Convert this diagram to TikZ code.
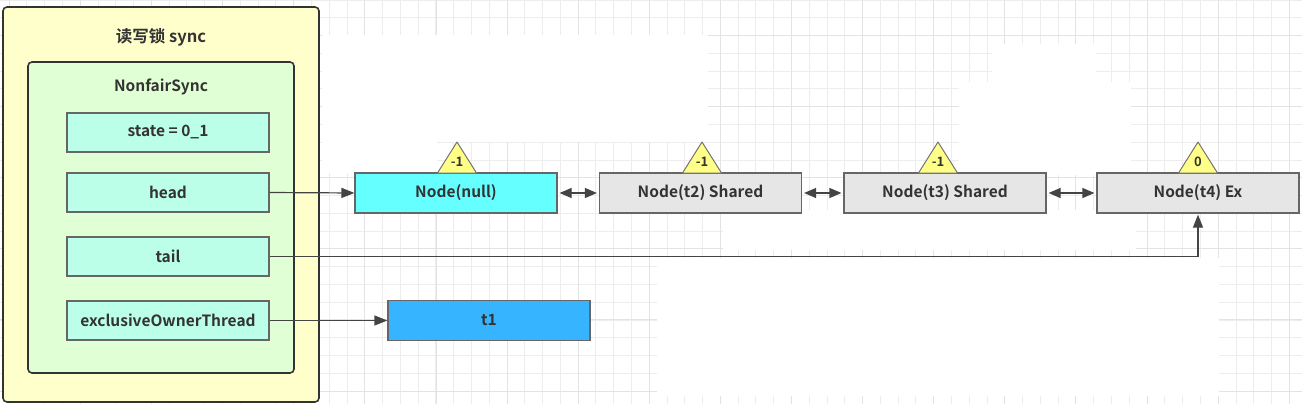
\documentclass[tikz,border=0pt]{standalone}
\usepackage{fontspec}
\setmainfont{Noto Sans CJK SC}[BoldFont={Noto Sans CJK SC Bold}]
\usetikzlibrary{arrows.meta}
\definecolor{outerY}{HTML}{FFFFCC}
\definecolor{innerG}{HTML}{E0FFD4}
\definecolor{mint}{HTML}{BBFFE8}
\definecolor{cyanN}{HTML}{66FFFF}
\definecolor{grayN}{HTML}{E6E6E6}
\definecolor{blueT}{HTML}{36B4FF}
\definecolor{triY}{HTML}{FFFF88}
\definecolor{txt}{HTML}{333333}
\definecolor{ln}{HTML}{444444}
\definecolor{gridminor}{HTML}{EDEDED}
\definecolor{gridmajor}{HTML}{E3E3E3}
\tikzset{
  x=1pt, y=-1pt,
  field/.style={draw=black!60, line width=1.2pt, fill=mint, minimum width=202pt, minimum height=39pt, inner sep=0pt, font=\fontsize{15.5}{17}\selectfont\bfseries, text=txt},
  qnode/.style={draw=black!60, line width=1.2pt, minimum width=202pt, minimum height=40pt, inner sep=0pt, font=\fontsize{15.5}{17}\selectfont\bfseries, text=txt},
  tri/.style={draw=black!55, line width=1pt, fill=triY, line join=round},
  trilabel/.style={font=\fontsize{13}{14}\selectfont\bfseries, text=txt, inner sep=0pt},
  conn/.style={draw=ln, line width=1.2pt, -{Triangle[length=13pt,width=10pt]}},
  dconn/.style={draw=ln, line width=1.2pt, {Triangle[length=12pt,width=10pt]}-{Triangle[length=12pt,width=10pt]}, shorten <=2pt, shorten >=2pt},
  boxtitle/.style={font=\fontsize{16.5}{18}\selectfont\bfseries, text=txt, inner sep=0pt}
}
\begin{document}
\begin{tikzpicture}
\useasboundingbox (0,0) rectangle (1302,404);
\fill[white] (0,0) rectangle (1302,404);
% background grid
\foreach \i in {0,...,75} {
  \draw[gridminor, line width=0.8pt] ({1147-17.78*65+17.78*\i},0) -- ++(0,404);
}
\foreach \j in {0,...,23} {
  \draw[gridminor, line width=0.8pt] (0,{35.5-17.78*2+17.78*\j}) -- ++(1302,0);
}
\foreach \i in {0,...,19} {
  \draw[gridmajor, line width=1pt] ({1147-71.1*17+71.1*\i},0) -- ++(0,404);
}
\foreach \j in {0,...,5} {
  \draw[gridmajor, line width=1pt] (0,{35.5+71.1*\j}) -- ++(1302,0);
}
% white patches
\fill[white] (322,35) rectangle (708,142);
\fill[white] (322,142) rectangle (437,173);
\fill[white] (959,82) rectangle (1131,175);
\fill[white] (992,44) rectangle (1096,82);
\fill[white] (657,258) rectangle (1219,396);
\fill[white] (723,210) rectangle (1136,250);

% outer box
\draw[draw=txt, line width=1.6pt, fill=outerY, rounded corners=4pt] (3,7) rectangle (319,402);
\node[boxtitle] (title) at (161,37) {读写锁 sync};
\draw[draw=txt, line width=1.6pt, fill=innerG, rounded corners=4pt] (28,62) rectangle (294,373);
\node[boxtitle, font=\fontsize{15.5}{17}\selectfont\bfseries] (nfs) at (161,87) {NonfairSync};

\node[field] (state) at (168,132.5) {state = 0\_1};
\node[field] (head) at (168,192.5) {head};
\node[field] (tail) at (168,256.5) {tail};
\node[field] (owner) at (168,320.5) {exclusiveOwnerThread};

% queue nodes
\node[qnode, fill=cyanN] (n0) at (456,193) {Node(null)};
\node[qnode, fill=grayN] (n2) at (700.5,193) {Node(t2) Shared};
\node[qnode, fill=grayN] (n3) at (945,193) {Node(t3) Shared};
\node[qnode, fill=grayN] (n4) at (1198,193) {Node(t4) Ex};
\node[qnode, fill=blueT] (t1) at (489,320.5) {t1};

% triangles
\foreach \cx/\lab/\nm in {457/-1/w0, 702/-1/w2, 938/-1/w3, 1198/0/w4} {
  \draw[tri] (\cx,142) -- ({\cx+19.5},173) -- ({\cx-19.5},173) -- cycle;
  \node[trilabel] (\nm) at (\cx,162) {\lab};
}

% connectors
\draw[conn] (head.east) -- (n0.west);
\draw[dconn] (n0.east) -- (n2.west);
\draw[dconn] (n2.east) -- (n3.west);
\draw[dconn] (n3.east) -- (n4.west);
\draw[conn, shorten >=1pt] (tail.east) -| (n4.south);
\draw[conn] (owner.east) -- (t1.west);
\end{tikzpicture}
\end{document}
